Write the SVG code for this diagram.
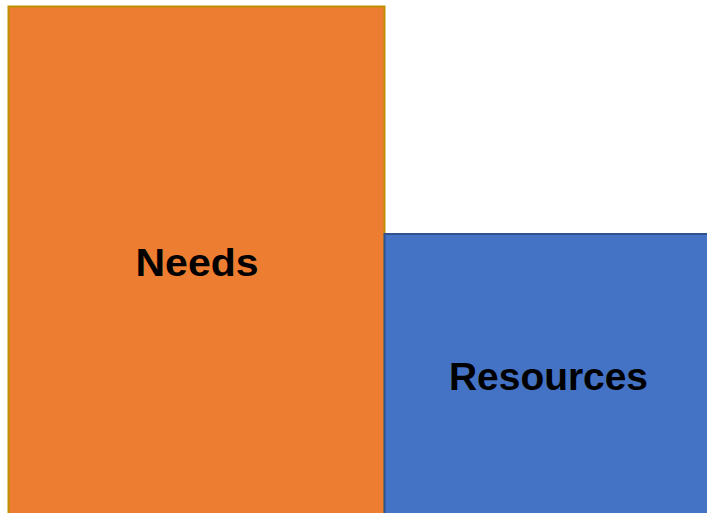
<svg xmlns="http://www.w3.org/2000/svg" width="707" height="513" viewBox="0 0 707 513">
<style>
.lbl{font-family:"Liberation Sans",Arial,sans-serif;font-weight:bold;font-size:39px;fill:#000;text-anchor:middle}
</style>
<rect width="707" height="513" fill="#fff"/>
<g id="needs">
<rect x="8.5" y="6.5" width="376" height="520" fill="#ED7D31" stroke="#BF9000" stroke-width="2"/>
<text class="lbl" x="197" y="276" textLength="123" lengthAdjust="spacingAndGlyphs">Needs</text>
</g>
<g id="resources">
<rect x="384.5" y="234" width="330" height="300" fill="#4472C4" stroke="#2F528F" stroke-width="2"/>
<text class="lbl" x="548.5" y="390" textLength="199" lengthAdjust="spacingAndGlyphs">Resources</text>
</g>
<g id="connectors"/>
</svg>
